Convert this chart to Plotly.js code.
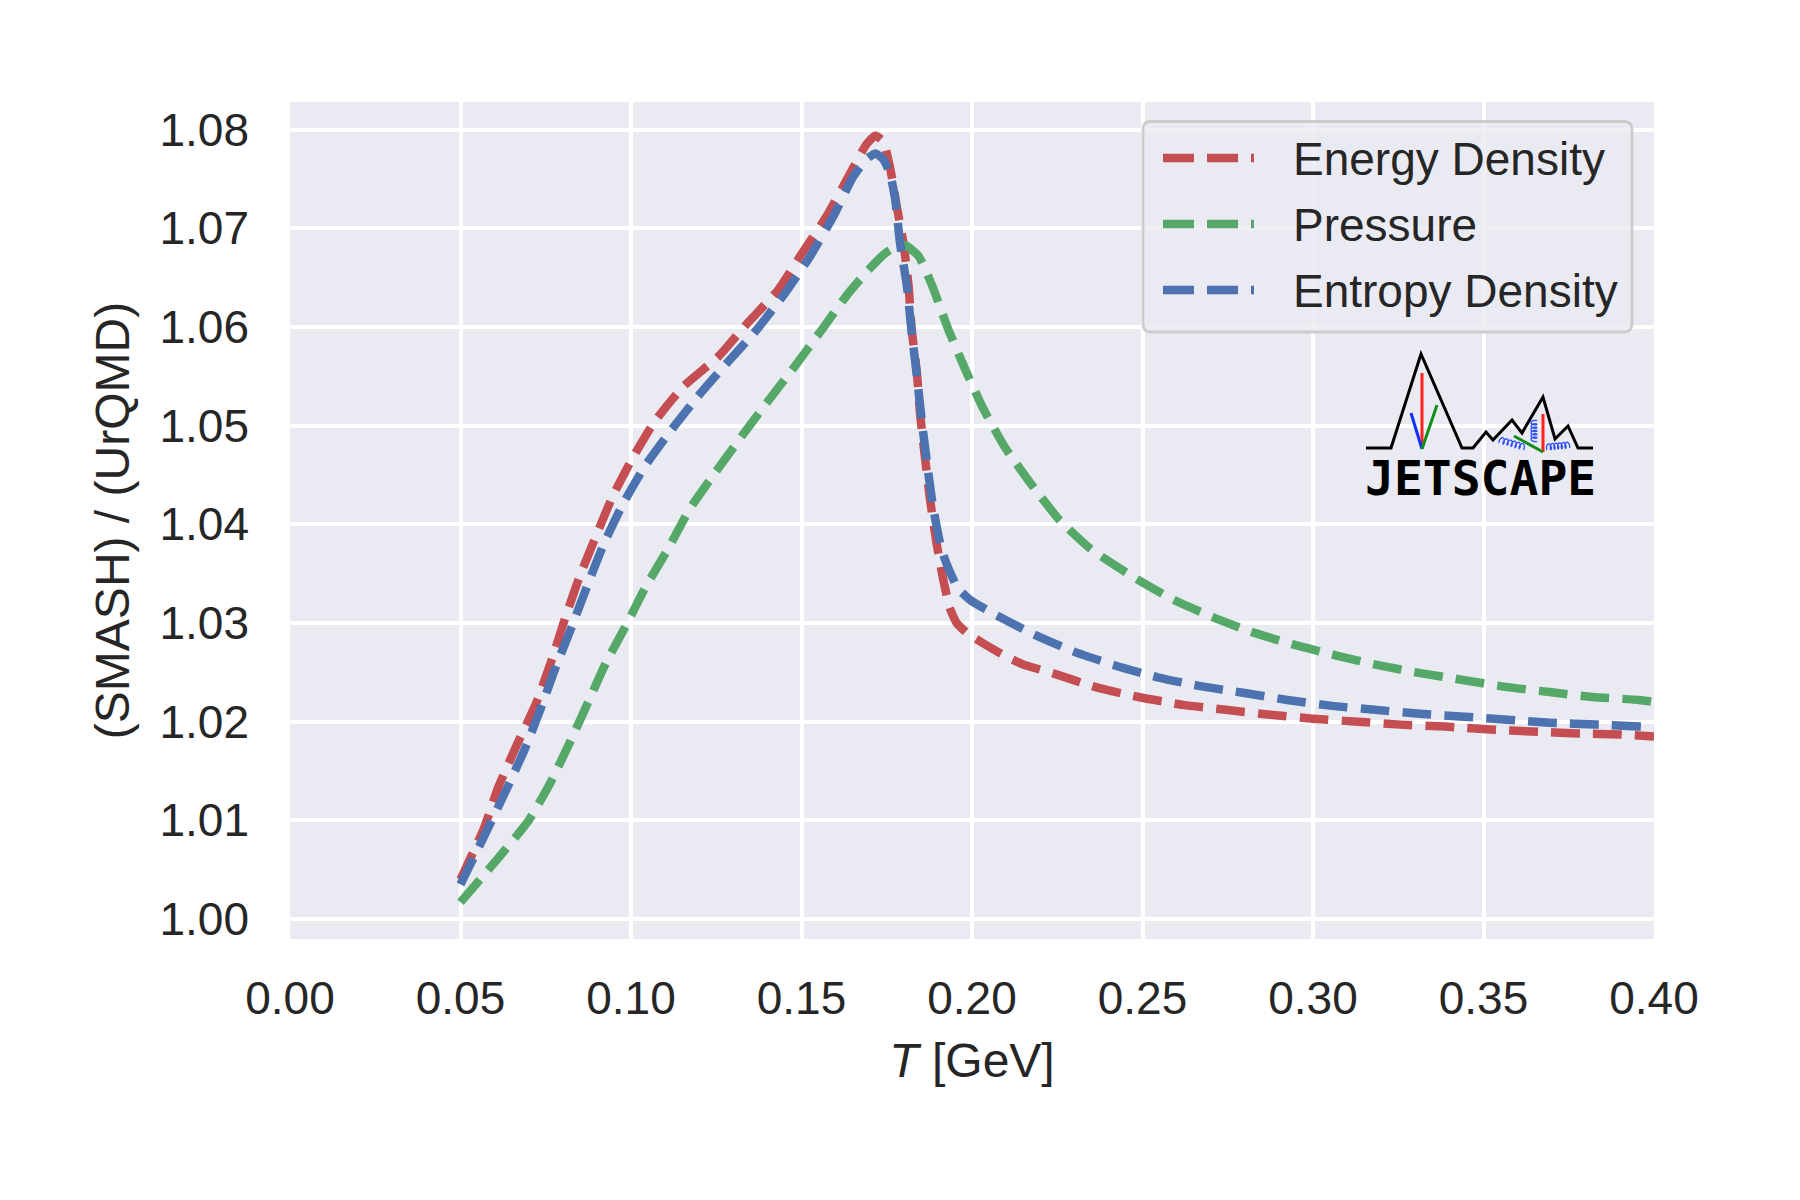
<!DOCTYPE html>
<html>
<head>
<meta charset="utf-8">
<script src="https://cdn.plot.ly/plotly-3.0.1.min.js"></script>
<style>html,body{margin:0;padding:0;background:#fff;}#chart{width:1800px;height:1200px;}</style>
</head>
<body>
<div id="chart"></div>
<script>
// ---- data ----
const seriesNames = ["Energy Density", "Pressure", "Entropy Density"];

const T_energy = [0.050, 0.057, 0.061, 0.0666, 0.0721, 0.0765, 0.0806, 0.0847, 0.0896, 0.0947, 0.1006, 0.1071, 0.1154, 0.1256, 0.1339, 0.1430, 0.150, 0.1573, 0.1637, 0.1690, 0.1717, 0.1740, 0.1760, 0.1780, 0.1799, 0.1814, 0.1823, 0.1838, 0.1848, 0.1862, 0.1877, 0.1896, 0.1915, 0.1935, 0.1955, 0.1985, 0.2030, 0.2090, 0.2150, 0.2238, 0.2363, 0.2488, 0.2619, 0.2744, 0.2875, 0.300, 0.3131, 0.3256, 0.3388, 0.3519, 0.3644, 0.3775, 0.390, 0.400];
const energy = [1.0040, 1.0093, 1.0133, 1.0177, 1.0218, 1.0260, 1.0304, 1.0345, 1.0387, 1.0429, 1.0468, 1.0505, 1.0540, 1.0570, 1.0603, 1.0637, 1.0674, 1.0712, 1.0752, 1.0785, 1.0794, 1.0788, 1.0761, 1.0721, 1.0685, 1.0642, 1.0598, 1.0555, 1.0511, 1.0468, 1.0425, 1.0381, 1.0345, 1.0315, 1.0300, 1.0290, 1.0280, 1.0268, 1.0258, 1.0249, 1.0235, 1.0225, 1.0217, 1.0212, 1.0207, 1.0203, 1.0200, 1.0197, 1.0195, 1.0192, 1.0190, 1.0188, 1.0187, 1.0185];

const T_pressure = [0.050, 0.0614, 0.0700, 0.0759, 0.0818, 0.0872, 0.0927, 0.0983, 0.1042, 0.1110, 0.1173, 0.1246, 0.1324, 0.1402, 0.1480, 0.1559, 0.1637, 0.1702, 0.1746, 0.1780, 0.1804, 0.1843, 0.1882, 0.1930, 0.1979, 0.2032, 0.2095, 0.2173, 0.2255, 0.2348, 0.2481, 0.2594, 0.2706, 0.2819, 0.2944, 0.3069, 0.3194, 0.3319, 0.3444, 0.3569, 0.3694, 0.3819, 0.3956, 0.400];
const pressure = [1.0017, 1.0063, 1.0100, 1.0135, 1.0177, 1.0218, 1.0260, 1.0296, 1.0336, 1.0376, 1.0416, 1.0452, 1.0489, 1.0525, 1.0560, 1.0597, 1.0634, 1.0660, 1.0675, 1.0682, 1.0683, 1.0672, 1.0643, 1.0598, 1.0558, 1.0518, 1.0479, 1.0441, 1.0405, 1.0375, 1.0345, 1.0323, 1.0306, 1.0291, 1.0278, 1.0267, 1.0257, 1.0249, 1.0242, 1.0235, 1.0230, 1.0225, 1.0222, 1.0220];

const T_entropy = [0.050, 0.0575, 0.0633, 0.0687, 0.0735, 0.0779, 0.0826, 0.0872, 0.0920, 0.0977, 0.1041, 0.1119, 0.1197, 0.1280, 0.1368, 0.1451, 0.1524, 0.1593, 0.1651, 0.1690, 0.1717, 0.1740, 0.1760, 0.1775, 0.1789, 0.1809, 0.1823, 0.1838, 0.1852, 0.1867, 0.1886, 0.1911, 0.1935, 0.1959, 0.2000, 0.2066, 0.2178, 0.2299, 0.2419, 0.2544, 0.2669, 0.2800, 0.2925, 0.3056, 0.3181, 0.3313, 0.3444, 0.3569, 0.3694, 0.3831, 0.3956, 0.400];
const entropy = [1.0035, 1.0088, 1.0130, 1.0171, 1.0213, 1.0255, 1.0296, 1.0338, 1.0380, 1.0421, 1.0459, 1.0496, 1.0530, 1.0563, 1.0597, 1.0634, 1.0671, 1.0712, 1.0752, 1.0770, 1.0776, 1.0770, 1.0755, 1.0729, 1.0685, 1.0642, 1.0595, 1.0552, 1.0507, 1.0465, 1.0417, 1.0374, 1.0352, 1.0335, 1.0322, 1.0309, 1.0289, 1.0271, 1.0257, 1.0245, 1.0236, 1.0229, 1.0222, 1.0216, 1.0212, 1.0208, 1.0205, 1.0202, 1.0199, 1.0197, 1.0195, 1.0194];

const xTickVals = [0.00, 0.05, 0.10, 0.15, 0.20, 0.25, 0.30, 0.35, 0.40];
const xTickText = ["0.00", "0.05", "0.10", "0.15", "0.20", "0.25", "0.30", "0.35", "0.40"];
const yTickVals = [1.00, 1.01, 1.02, 1.03, 1.04, 1.05, 1.06, 1.07, 1.08];
const yTickText = ["1.00", "1.01", "1.02", "1.03", "1.04", "1.05", "1.06", "1.07", "1.08"];

// ---- styling ----
const colors = ["#C44E52", "#55A868", "#4C72B0"];
const FONT = "Liberation Sans, Arial, sans-serif";
const TXT = "#262626";
const W = 1800, H = 1200;
const M = {l: 290, r: 146, t: 102, b: 261};
const PW = W - M.l - M.r, PH = H - M.t - M.b;
const px = x => (x - M.l) / PW;
const py = y => (H - M.b - y) / PH;
const LW = 8.5;

function mk(x, y, i) {
  return {
    x: x, y: y, type: "scatter", mode: "lines", name: seriesNames[i],
    line: {color: colors[i], width: LW, dash: "29px,13px", shape: "spline", smoothing: 0.5},
    showlegend: false,
    hoverinfo: "x+y+name"
  };
}
const data = [mk(T_energy, energy, 0), mk(T_pressure, pressure, 1), mk(T_entropy, entropy, 2)];

function pathFrom(pts) {
  return pts.map((p, k) => (k ? "L" : "M") + px(p[0]).toFixed(5) + "," + py(p[1]).toFixed(5)).join(" ");
}
function P(x, y) { return px(x).toFixed(5) + "," + py(y).toFixed(5); }

const shapes = [];
const annotations = [];

// ---- legend (drawn to match the reference layout) ----
const LG = {x0: 1143, x1: 1632, y0: 121.5, y1: 332, r: 8, lineX0: 1163, lineX1: 1254, textX: 1291, rows: [158, 224, 290]};
shapes.push({
  type: "path", xref: "paper", yref: "paper", layer: "above",
  path: "M" + P(LG.x0 + LG.r, LG.y0) + " L" + P(LG.x1 - LG.r, LG.y0) + " Q" + P(LG.x1, LG.y0) + " " + P(LG.x1, LG.y0 + LG.r) +
        " L" + P(LG.x1, LG.y1 - LG.r) + " Q" + P(LG.x1, LG.y1) + " " + P(LG.x1 - LG.r, LG.y1) +
        " L" + P(LG.x0 + LG.r, LG.y1) + " Q" + P(LG.x0, LG.y1) + " " + P(LG.x0, LG.y1 - LG.r) +
        " L" + P(LG.x0, LG.y0 + LG.r) + " Q" + P(LG.x0, LG.y0) + " " + P(LG.x0 + LG.r, LG.y0) + " Z",
  fillcolor: "rgba(234,234,242,0.8)", line: {color: "#cccccc", width: 2.8}
});
seriesNames.forEach((nm, i) => {
  shapes.push({type: "line", xref: "paper", yref: "paper", x0: px(LG.lineX0), x1: px(LG.lineX1), y0: py(LG.rows[i]), y1: py(LG.rows[i]),
               line: {color: colors[i], width: LW, dash: "31px,13px"}});
  annotations.push({xref: "paper", yref: "paper", x: px(LG.textX), y: py(LG.rows[i] + 1), xanchor: "left", yanchor: "middle",
                    text: nm, showarrow: false, font: {family: FONT, size: 46, color: TXT}});
});

// ---- JETSCAPE logo (decoration) ----
function coil(x1, y1, x2, y2, turns, r) {
  const pts = [];
  const dx = x2 - x1, dy = y2 - y1, L = Math.hypot(dx, dy);
  const ux = dx / L, uy = dy / L, nx = -uy, ny = ux;
  const N = turns * 16;
  for (let k = 0; k <= N; k++) {
    const t = k / N, a = 2 * Math.PI * turns * t;
    const s = t * L - 0.45 * r * Math.sin(a);
    const q = r * Math.cos(a);
    pts.push([x1 + ux * s + nx * q, y1 + uy * s + ny * q]);
  }
  return pathFrom(pts);
}
const mountain = [[1366, 448], [1391, 448], [1421, 354], [1462, 448], [1473, 448], [1486, 432], [1493, 440], [1512, 420], [1522, 433], [1543, 397], [1555, 439], [1568, 426], [1578, 448], [1593, 448]];
shapes.push(
  {type: "path", xref: "paper", yref: "paper", path: pathFrom(mountain), line: {color: "#000", width: 3}},
  {type: "path", xref: "paper", yref: "paper", path: pathFrom([[1422, 373], [1422, 449]]), line: {color: "#ff2020", width: 3}},
  {type: "path", xref: "paper", yref: "paper", path: pathFrom([[1411, 413], [1422, 449]]), line: {color: "#1030ff", width: 3}},
  {type: "path", xref: "paper", yref: "paper", path: pathFrom([[1437, 405], [1422, 449]]), line: {color: "#10901a", width: 3}},
  {type: "path", xref: "paper", yref: "paper", path: pathFrom([[1543, 414], [1543, 452]]), line: {color: "#ff2020", width: 3}},
  {type: "path", xref: "paper", yref: "paper", path: pathFrom([[1514, 436], [1543, 452]]), line: {color: "#10901a", width: 3}},
  {type: "path", xref: "paper", yref: "paper", path: coil(1500, 440, 1524, 447, 6, 3), line: {color: "#3050ff", width: 1.3}},
  {type: "path", xref: "paper", yref: "paper", path: coil(1534, 441, 1534, 421, 6, 3), line: {color: "#3050ff", width: 1.3}},
  {type: "path", xref: "paper", yref: "paper", path: coil(1547, 447, 1569, 445, 6, 3), line: {color: "#3050ff", width: 1.3}}
);
annotations.push({xref: "paper", yref: "paper", x: px(1480), y: py(478), xanchor: "center", yanchor: "middle",
  text: "<b>JETSCAPE</b>", showarrow: false, font: {family: "DejaVu Sans Mono, monospace", size: 48, color: "#000"}});

const layout = {
  width: W, height: H,
  margin: M,
  paper_bgcolor: "#ffffff",
  plot_bgcolor: "#EAEAF2",
  font: {family: FONT, color: TXT, size: 46},
  showlegend: false,
  xaxis: {
    range: [0, 0.4], tickvals: xTickVals, ticktext: xTickText,
    showgrid: true, gridcolor: "#ffffff", gridwidth: 3.5,
    zeroline: false, showline: false, ticks: "",
    ticklabelstandoff: 28,
    tickfont: {family: FONT, size: 46, color: TXT},
    title: {text: "<i>T</i> [GeV]", font: {family: FONT, size: 48, color: TXT}, standoff: 20}
  },
  yaxis: {
    range: [0.99797, 1.08281], tickvals: yTickVals, ticktext: yTickText,
    showgrid: true, gridcolor: "#ffffff", gridwidth: 3.5,
    zeroline: false, showline: false, ticks: "",
    ticklabelstandoff: 40,
    tickfont: {family: FONT, size: 46, color: TXT},
    title: {text: "(SMASH) / (UrQMD)", font: {family: FONT, size: 48, color: TXT}, standoff: 14}
  },
  shapes: shapes,
  annotations: annotations
};

Plotly.newPlot("chart", data, layout, {displayModeBar: false});
</script>
</body>
</html>
